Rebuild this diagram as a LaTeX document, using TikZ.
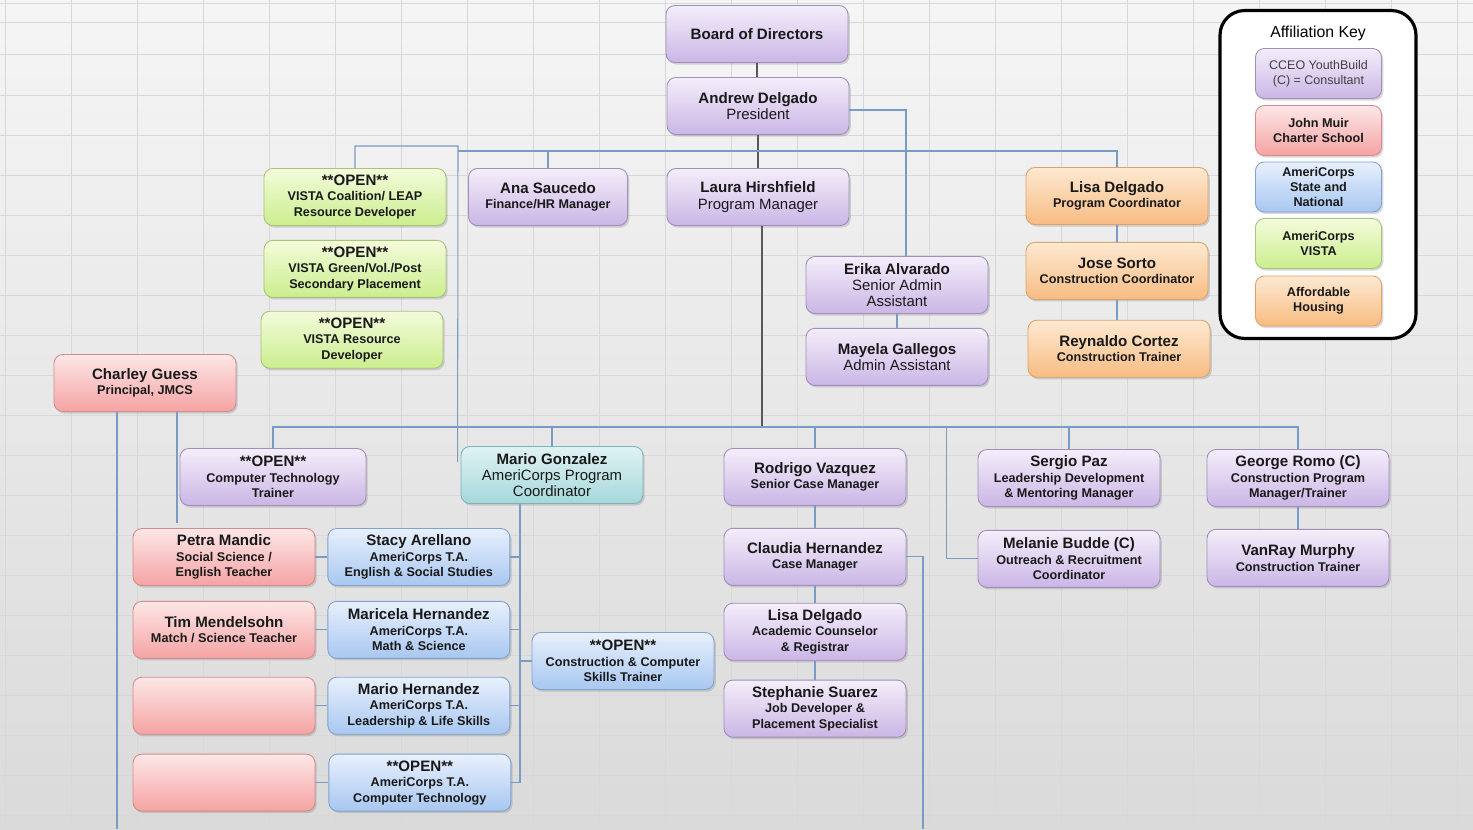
\documentclass[tikz,border=0pt]{standalone}
\usepackage{fontspec}
\setmainfont{Liberation Sans}
\usepackage{tikz}
\usetikzlibrary{calc}
\usetikzlibrary{shapes.geometric, shadows, positioning}

\definecolor{paperTop}{HTML}{F5F5F5}
\definecolor{paperBot}{HTML}{DADADA}
\definecolor{gridLine}{HTML}{D8D8D8}
\definecolor{linkBlue}{HTML}{7A9BC4}
\definecolor{cceoTop}{HTML}{F4EEFA}
\definecolor{cceoBot}{HTML}{CBB6E6}
\definecolor{cceoLine}{HTML}{A08EBB}
\definecolor{jmcsTop}{HTML}{FDE7E7}
\definecolor{jmcsBot}{HTML}{F5A3A3}
\definecolor{jmcsLine}{HTML}{D48C8C}
\definecolor{acsnTop}{HTML}{E8F0FC}
\definecolor{acsnBot}{HTML}{A8C7F1}
\definecolor{acsnLine}{HTML}{7FA2CE}
\definecolor{vistaTop}{HTML}{F4FBDB}
\definecolor{vistaBot}{HTML}{CBEE8E}
\definecolor{vistaLine}{HTML}{A6C578}
\definecolor{housTop}{HTML}{FDE9D2}
\definecolor{housBot}{HTML}{F8BC82}
\definecolor{housLine}{HTML}{DCA36B}
\definecolor{acpcTop}{HTML}{E0F3F3}
\definecolor{acpcBot}{HTML}{A6D7DB}
\definecolor{acpcLine}{HTML}{7DB2B7}

\newcommand{\pname}[1]{{\fontsize{8.6}{8.8}\selectfont\bfseries #1}}

\begin{document}
\begin{tikzpicture}[
    x=0.02cm, y=-0.02cm,
    box/.style={rectangle, rounded corners=5pt, align=center, minimum width=3.64cm, minimum height=1.14cm, inner sep=1pt, text=black!90, font=\fontsize{7.2}{8.8}\selectfont\bfseries, line width=0.5pt, drop shadow={opacity=0.3, shadow xshift=1pt, shadow yshift=-1.2pt}},
    lightsub/.style={font=\fontsize{8.5}{9.2}\selectfont},
    cceo/.style={box, draw=cceoLine, top color=cceoTop, bottom color=cceoBot},
    jmcs/.style={box, draw=jmcsLine, top color=jmcsTop, bottom color=jmcsBot},
    acsn/.style={box, draw=acsnLine, top color=acsnTop, bottom color=acsnBot},
    vista/.style={box, draw=vistaLine, top color=vistaTop, bottom color=vistaBot},
    housing/.style={box, draw=housLine, top color=housTop, bottom color=housBot},
    acpc/.style={box, draw=acpcLine, top color=acpcTop, bottom color=acpcBot},
    keybox/.style={minimum width=2.52cm, minimum height=1cm},
    link/.style={draw=linkBlue, line width=0.6pt},
    mainlink/.style={draw=black!65, line width=0.7pt}
]

% Paper
\useasboundingbox (0,0) rectangle (1473,829);
\fill[top color=paperTop, bottom color=paperBot] (0,0) rectangle (1473,829);
\foreach \gx in {5,71,...,1473} \draw[gridLine, line width=0.5pt] (\gx,0) -- (\gx,829);
\foreach \gy in {3,22,54} \draw[gridLine, line width=0.5pt] (0,\gy) -- (1473,\gy);
\foreach \gy in {95,135,...,829} \draw[gridLine, line width=0.5pt] (0,\gy) -- (1473,\gy);

% Top of the chart
\node (board) [cceo] at (757,34) {\pname{Board of Directors}};
\node (andrew) [cceo, lightsub] at (758,106) {\pname{Andrew Delgado}\\President};
\node (laura) [cceo, lightsub] at (758,197) {\pname{Laura Hirshfield}\\Program Manager};
\node (ana) [cceo, minimum width=3.18cm] at (548,197) {\pname{Ana Saucedo}\\Finance/HR Manager};
\node (erika) [cceo, lightsub] at (897,285) {\pname{Erika Alvarado}\\Senior Admin\\Assistant};
\node (mayela) [cceo, lightsub, below=0.28cm of erika] {\pname{Mayela Gallegos}\\Admin Assistant};

% VISTA openings
\node (vistaLeap) [vista] at (355,197) {\pname{**OPEN**}\\VISTA Coalition/ LEAP\\Resource Developer};
\node (vistaGreen) [vista, below=0.28cm of vistaLeap] {\pname{**OPEN**}\\VISTA Green/Vol./Post\\Secondary Placement};
\node (vistaRes) [vista, below=0.26cm of vistaGreen, xshift=-0.06cm] {\pname{**OPEN**}\\VISTA Resource\\Developer};

\node (charley) [jmcs] at (145,383) {\pname{Charley Guess}\\Principal, JMCS};

% Affordable housing
\node (lisa) [housing] at (1117,196) {\pname{Lisa Delgado}\\Program Coordinator};
\node (jose) [housing, below=0.34cm of lisa] {\pname{Jose Sorto}\\Construction Coordinator};
\node (reynaldo) [housing, below=0.4cm of jose, xshift=0.04cm] {\pname{Reynaldo Cortez}\\Construction Trainer};

% Key
\node (keyFrame) [draw=black, line width=1.8pt, rounded corners=14pt, fill=white, minimum width=3.92cm, minimum height=6.56cm] at (1318,174.5) {};
\node (keyTitle) [font=\fontsize{9}{9}\selectfont] at (1318,33) {Affiliation Key};
\node (keyCceo) [cceo, keybox, text=black!75, font=\fontsize{7.1}{8.4}\selectfont] at (1318.5,73.5) {CCEO YouthBuild\\(C) = Consultant};
\node (keyJmcs) [jmcs, keybox] at (1318.5,130.5) {John Muir\\Charter School};
\node (keyAcsn) [acsn, keybox] at (1318.5,187) {AmeriCorps\\State and\\National};
\node (keyVista) [vista, keybox] at (1318.5,243.5) {AmeriCorps\\VISTA};
\node (keyHousing) [housing, keybox] at (1318.5,301) {Affordable\\Housing};

% Program staff
\node (openTech) [cceo, minimum width=3.72cm] at (273,477) {\pname{**OPEN**}\\Computer Technology\\Trainer};
\node (mgonzalez) [acpc, lightsub] at (552,475) {\pname{Mario Gonzalez}\\AmeriCorps Program\\Coordinator};
\node (rodrigo) [cceo] at (815,477) {\pname{Rodrigo Vazquez}\\Senior Case Manager};
\node (claudia) [cceo, below=0.44cm of rodrigo] {\pname{Claudia Hernandez}\\Case Manager};
\node (lisaAcad) [cceo, below=0.34cm of claudia] {\pname{Lisa Delgado}\\Academic Counselor\\\& Registrar};
\node (stephanie) [cceo, below=0.38cm of lisaAcad] {\pname{Stephanie Suarez}\\Job Developer \&\\Placement Specialist};
\node (sergio) [cceo] at (1069,478) {\pname{Sergio Paz}\\Leadership Development\\\& Mentoring Manager};
\node (melanie) [cceo, below=0.46cm of sergio] {\pname{Melanie Budde (C)}\\Outreach \& Recruitment\\Coordinator};
\node (george) [cceo] at (1298,478) {\pname{George Romo (C)}\\Construction Program\\Manager/Trainer};
\node (vanray) [cceo, below=0.44cm of george] {\pname{VanRay Murphy}\\Construction Trainer};

% Teachers and T.A.s
\node (petra) [jmcs] at (224,557) {\pname{Petra Mandic}\\Social Science /\\English Teacher};
\node (tim) [jmcs, below=0.3cm of petra] {\pname{Tim Mendelsohn}\\Match / Science Teacher};
\node (jmcsThree) [jmcs, below=0.36cm of tim] {};
\node (jmcsFour) [jmcs, below=0.38cm of jmcsThree] {};
\node (stacy) [acsn, right=0.24cm of petra] {\pname{Stacy Arellano}\\AmeriCorps T.A.\\English \& Social Studies};
\node (maricela) [acsn, right=0.24cm of tim] {\pname{Maricela Hernandez}\\AmeriCorps T.A.\\Math \& Science};
\node (marioH) [acsn, right=0.24cm of jmcsThree] {\pname{Mario Hernandez}\\AmeriCorps T.A.\\Leadership \& Life Skills};
\node (openTA) [acsn, right=0.26cm of jmcsFour] {\pname{**OPEN**}\\AmeriCorps T.A.\\Computer Technology};
\node (openSkills) [acsn] at (623,661) {\pname{**OPEN**}\\Construction \& Computer\\Skills Trainer};

% Connectors
\coordinate (topBus) at (0,151);
\coordinate (lowBus) at (0,427);
\coordinate (vistaBend) at (458,146);
\coordinate (jmcsEnd) at (117,829);
\coordinate (caseEnd) at (923,829);
\coordinate (lauraDrop) at ($(laura.south)+(4,0)$);
\coordinate (erikaDrop) at ($(erika.north)+(9,0)$);
\coordinate (melBend) at ($(melanie.west)+(-31,0)$);
\coordinate (mgTrunk) at ($(mgonzalez.south)+(-32,0)$);

\draw[mainlink] (board.south) -- (board.south |- andrew.north);
\draw[mainlink] (andrew.south) -- (andrew.south |- laura.north);
\draw[mainlink] (lauraDrop) -- (lauraDrop |- lowBus);
\draw[link] ($(andrew.east)+(0,4)$) -| (erikaDrop);
\draw[link] (erika) -- (mayela);
\draw[link] (vistaBend |- topBus) -| (lisa.north);
\draw[link] (ana.north) -- (ana.north |- topBus);
\draw[link] (vistaLeap.north) |- (vistaBend) -- ($(mgonzalez.north west)+(-3,16)$);
\draw[link] (lisa) -- (jose);
\draw[link] (jose.south) -- (jose.south |- reynaldo.north);

\draw[link] (openTech.north) -- (openTech.north |- lowBus) -| (george.north);
\foreach \n in {mgonzalez, rodrigo, sergio}
    \draw[link] (\n.north) -- (\n.north |- lowBus);
\draw[link] (melanie.west) -- (melBend) -- (melBend |- lowBus);
\foreach \a/\b in {rodrigo/claudia, claudia/lisaAcad, lisaAcad/stephanie, george/vanray}
    \draw[link] (\a) -- (\b);
\draw[link] (claudia.east) -| (caseEnd);

\draw[link] (charley.south -| jmcsEnd) -- (jmcsEnd);
\draw[link] ($(charley.south)+(32,0)$) -- ($(petra.north)+(-47,-5)$);
\foreach \a/\b in {petra/stacy, tim/maricela, jmcsThree/marioH, jmcsFour/openTA}
    \draw[link] (\a.east) -- (\b.west);
\draw[link] (mgTrunk) |- (openTA.east);
\foreach \n in {stacy, maricela, marioH}
    \draw[link] (\n.east) -- (\n.east -| mgTrunk);
\draw[link] (openSkills.west) -- (openSkills.west -| mgTrunk);

\end{tikzpicture}
\end{document}
